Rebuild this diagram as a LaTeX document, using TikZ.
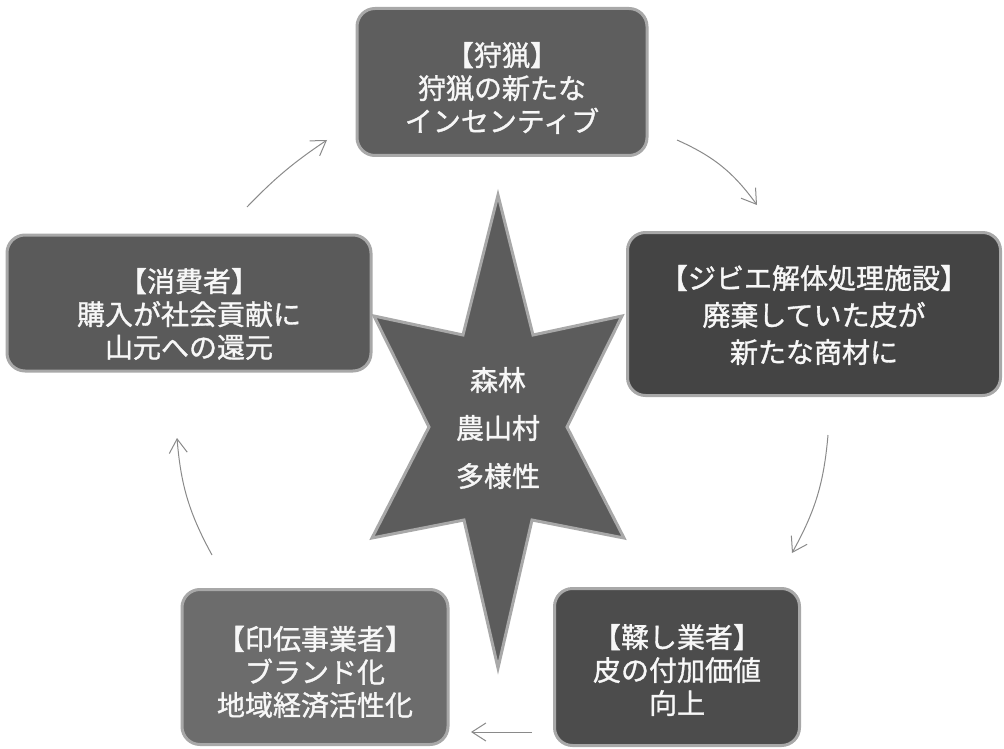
\documentclass[tikz,border=0pt]{standalone}
\usepackage{fontspec}
\newfontfamily\jp[FakeBold=1.2]{Noto Sans CJK JP}
\usetikzlibrary{arrows.meta}
\definecolor{rimgray}{HTML}{A8A8A8}
\definecolor{arrowgray}{HTML}{8A8A8A}
\definecolor{txtwhite}{HTML}{F7F7F7}
\definecolor{fillA}{HTML}{5E5E5E}
\definecolor{fillB}{HTML}{444444}
\definecolor{fillC}{HTML}{5A5A5A}
\definecolor{fillD}{HTML}{6C6C6C}
\definecolor{fillE}{HTML}{4C4C4C}
\definecolor{fillS}{HTML}{5C5C5C}
\begin{document}
\begin{tikzpicture}[x=1pt,y=-1pt,
  box/.style={draw=rimgray, line width=3pt, rounded corners=18pt, inner sep=0pt},
  boxtext/.style={text=txtwhite, align=center, font=\jp\fontsize{28}{33}\selectfont, inner sep=0pt},
  startext/.style={text=txtwhite, align=center, font=\jp\fontsize{28}{48}\selectfont, inner sep=0pt},
  flow/.style={draw=arrowgray, line width=1pt, -{Straight Barb[length=14pt,width=18pt]}}]
\useasboundingbox (0,0) rectangle (1004,749);

% central star
\path[fill=fillS, draw=rimgray, line width=3pt, line join=miter]
  (498,195) -- (533,335) -- (622,316) -- (567,427) -- (624,538) -- (532,520)
  -- (498,668) -- (464,520) -- (372,538) -- (429,427) -- (374,316) -- (463,335) -- cycle;
\node[startext] (core) at (498,428) {森林\\農山村\\多様性};

% boxes
\node[box, fill=fillA, minimum width=290pt, minimum height=147pt] (hunt) at (502,82) {};
\node[boxtext] (huntT) at ([yshift=-6pt]hunt.center) {【狩猟】\\狩猟の新たな\\インセンティブ};

\node[box, fill=fillB, minimum width=373pt, minimum height=163pt] (gibier) at (814,314) {};
\node[boxtext, font=\jp\fontsize{28}{37}\selectfont] (gibierT) at ([yshift=-1pt]gibier.center)
  {【ジビエ解体処理施設】\\廃棄していた皮が\\新たな商材に};

\node[box, fill=fillE, minimum width=245pt, minimum height=157pt] (tanner) at (677,667) {};
\node[boxtext] (tannerT) at ([yshift=-3pt]tanner.center) {【鞣し業者】\\皮の付加価値\\向上};

\node[box, fill=fillD, minimum width=266pt, minimum height=155pt] (inden) at (315,667) {};
\node[boxtext] (indenT) at ([yshift=-5pt]inden.center) {【印伝事業者】\\ブランド化\\地域経済活性化};

\node[box, fill=fillC, minimum width=364pt, minimum height=136pt] (consumer) at (189,303) {};
\node[boxtext] (consumerT) at ([yshift=-11pt]consumer.center) {【消費者】\\購入が社会貢献に\\山元への還元};

% arrow end points
\coordinate (a1s) at (677,140); \coordinate (a1e) at (757,205);
\coordinate (a2s) at (828,435); \coordinate (a2e) at (792,553);
\coordinate (a3s) at (532,732); \coordinate (a3e) at (471,732);
\coordinate (a4s) at (212,555); \coordinate (a4e) at (177,438);
\coordinate (a5s) at (247,207); \coordinate (a5e) at (327,140);

\draw[flow] (a1s) to[bend left=15] (a1e);
\draw[flow] (a2s) to[bend left=12] (a2e);
\draw[flow] (a3s) -- (a3e);
\draw[flow] (a4s) to[bend left=12] (a4e);
\draw[flow] (a5s) to[bend left=6] (a5e);
\end{tikzpicture}
\end{document}
